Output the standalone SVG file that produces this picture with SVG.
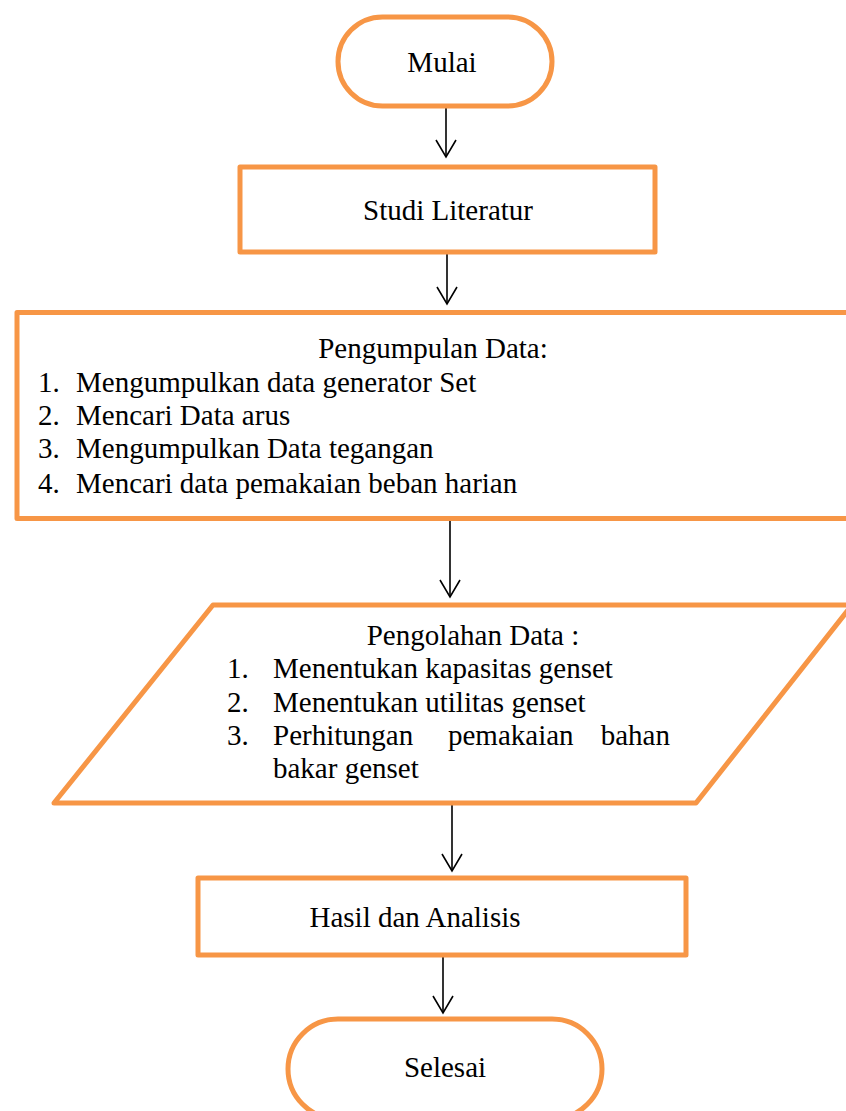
<svg xmlns="http://www.w3.org/2000/svg" width="846" height="1111" viewBox="0 0 846 1111">
  <style>
    .shape { fill: #ffffff; stroke: #F79646; stroke-width: 5; stroke-linejoin: round; }
    .t { font-family: "Liberation Serif", "Times New Roman", serif; font-size: 29px; fill: #000000; }
    .c { text-anchor: middle; }
    .conn { stroke: #000000; stroke-width: 1.6; fill: none; marker-end: url(#arr); }
  </style>
  <defs>
    <marker id="arr" viewBox="-1 -11 20 22" refX="17" refY="0" markerWidth="20" markerHeight="22" markerUnits="userSpaceOnUse" orient="auto" overflow="visible">
      <path d="M0,-10 L17,0 L0,10" fill="none" stroke="#000000" stroke-width="1.6"/>
    </marker>
  </defs>
  <rect width="846" height="1111" fill="#ffffff"/>

  <g id="connectors">
    <path class="conn" d="M446,108 L446,157"/>
    <path class="conn" d="M447,254 L447,304"/>
    <path class="conn" d="M450,521 L450,597"/>
    <path class="conn" d="M452,805 L452,871"/>
    <path class="conn" d="M443,957 L443,1013"/>
  </g>

  <g id="mulai">
    <rect class="shape" x="338" y="17" width="214" height="89" rx="44.5" ry="44.5"/>
    <text class="t c" x="442" y="72">Mulai</text>
  </g>

  <g id="studi-literatur">
    <rect class="shape" x="240" y="167" width="415" height="85"/>
    <text class="t c" x="448" y="220">Studi Literatur</text>
  </g>

  <g id="pengumpulan-data">
    <rect class="shape" x="17" y="312.5" width="840" height="206"/>
    <text class="t c" x="433" y="358">Pengumpulan Data:</text>
    <text class="t" x="38" y="392">1.</text>
    <text class="t" x="76" y="392">Mengumpulkan data generator Set</text>
    <text class="t" x="38" y="425">2.</text>
    <text class="t" x="76" y="425">Mencari Data arus</text>
    <text class="t" x="38" y="458">3.</text>
    <text class="t" x="76" y="458">Mengumpulkan Data tegangan</text>
    <text class="t" x="38" y="493">4.</text>
    <text class="t" x="76" y="493">Mencari data pemakaian beban harian</text>
  </g>

  <g id="pengolahan-data">
    <polygon class="shape" points="213,605 852,605 696,803 54,803"/>
    <text class="t c" x="473" y="645">Pengolahan Data :</text>
    <text class="t" x="227" y="678">1.</text>
    <text class="t" x="273" y="678">Menentukan kapasitas genset</text>
    <text class="t" x="227" y="712">2.</text>
    <text class="t" x="273" y="712">Menentukan utilitas genset</text>
    <text class="t" x="227" y="745">3.</text>
    <text class="t" x="273" y="745">Perhitungan</text>
    <text class="t" x="448" y="745">pemakaian</text>
    <text class="t" x="670" y="745" text-anchor="end">bahan</text>
    <text class="t" x="273" y="778">bakar genset</text>
  </g>

  <g id="hasil-analisis">
    <rect class="shape" x="198" y="878" width="488" height="77"/>
    <text class="t c" x="415" y="927">Hasil dan Analisis</text>
  </g>

  <g id="selesai">
    <rect class="shape" x="288" y="1019" width="314" height="100" rx="50" ry="50"/>
    <text class="t c" x="445" y="1077">Selesai</text>
  </g>
</svg>
